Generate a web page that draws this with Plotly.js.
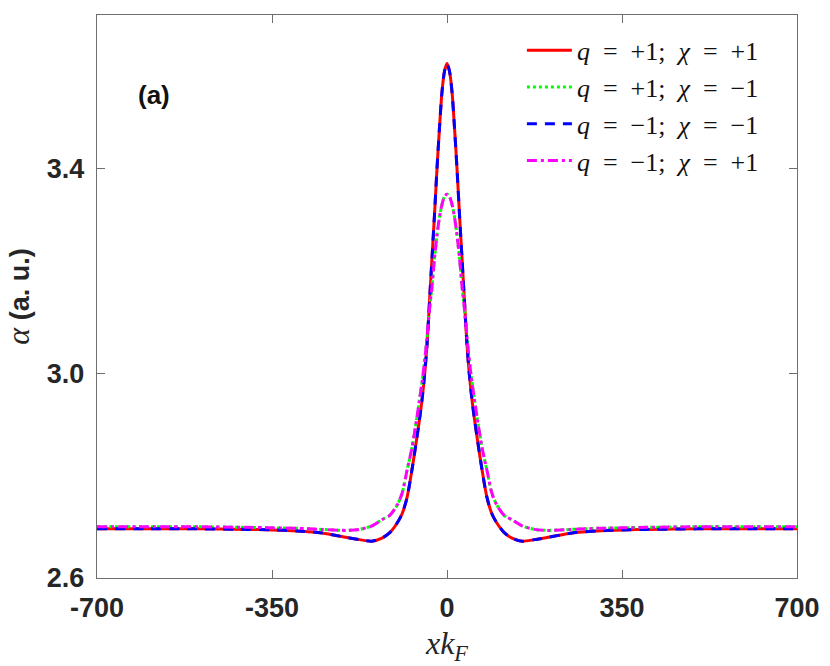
<!DOCTYPE html>
<html>
<head>
<meta charset="utf-8">
<script src="https://cdn.plot.ly/plotly-3.0.1.min.js"></script>
<style>
  html, body { margin: 0; padding: 0; background: #fff; }
  #plot { width: 830px; height: 666px; }
</style>
</head>
<body>
<div id="plot"></div>
<script>
const xk = [-700, -600, -500, -400, -350, -300, -250, -200, -175, -150, -130, -115, -100, -90, -80, -70,
            -60, -55, -50, -45, -40, -35, -30, -25, -20, -15, -10, -5, 0,
            5, 10, 15, 20, 25, 30, 35, 40, 45, 50, 55, 60,
            70, 80, 90, 100, 115, 130, 150, 175, 200, 250, 300, 350, 400, 500, 600, 700];

// q=+1, chi=+1 (red) and q=-1, chi=-1 (blue) lie on top of each other
const alphaPP = [2.696, 2.696, 2.696, 2.695, 2.694, 2.692, 2.688, 2.679, 2.675, 2.672, 2.678, 2.688, 2.707, 2.725, 2.757, 2.812,
                 2.876, 2.910, 2.948, 2.995, 3.055, 3.140, 3.225, 3.310, 3.400, 3.480, 3.550, 3.590, 3.605,
                 3.590, 3.550, 3.480, 3.400, 3.310, 3.225, 3.140, 3.055, 2.995, 2.948, 2.910, 2.876,
                 2.812, 2.757, 2.725, 2.707, 2.688, 2.678, 2.672, 2.675, 2.679, 2.688, 2.692, 2.694, 2.695, 2.696, 2.696, 2.696];
const alphaMM = [2.696, 2.696, 2.696, 2.695, 2.694, 2.692, 2.688, 2.679, 2.675, 2.672, 2.678, 2.688, 2.707, 2.725, 2.757, 2.812,
                 2.876, 2.910, 2.948, 2.995, 3.055, 3.140, 3.225, 3.310, 3.400, 3.480, 3.550, 3.590, 3.605,
                 3.590, 3.550, 3.480, 3.400, 3.310, 3.225, 3.140, 3.055, 2.995, 2.948, 2.910, 2.876,
                 2.812, 2.757, 2.725, 2.707, 2.688, 2.678, 2.672, 2.675, 2.679, 2.688, 2.692, 2.694, 2.695, 2.696, 2.696, 2.696];

// q=+1, chi=-1 (green) and q=-1, chi=+1 (magenta), the lower peak
const alphaPM = [2.700, 2.700, 2.700, 2.699, 2.698, 2.697, 2.695, 2.693, 2.695, 2.702, 2.714, 2.722, 2.742, 2.765, 2.810, 2.855,
                 2.915, 2.948, 2.982, 3.022, 3.070, 3.125, 3.170, 3.225, 3.270, 3.305, 3.330, 3.345, 3.350,
                 3.345, 3.330, 3.305, 3.270, 3.225, 3.170, 3.125, 3.070, 3.022, 2.982, 2.948, 2.915,
                 2.855, 2.810, 2.765, 2.742, 2.722, 2.714, 2.702, 2.695, 2.693, 2.695, 2.697, 2.698, 2.699, 2.700, 2.700, 2.700];
const alphaMP = [2.700, 2.700, 2.700, 2.699, 2.698, 2.697, 2.695, 2.693, 2.695, 2.702, 2.714, 2.722, 2.742, 2.765, 2.810, 2.855,
                 2.915, 2.948, 2.982, 3.022, 3.070, 3.125, 3.170, 3.225, 3.270, 3.305, 3.330, 3.345, 3.350,
                 3.345, 3.330, 3.305, 3.270, 3.225, 3.170, 3.125, 3.070, 3.022, 2.982, 2.948, 2.915,
                 2.855, 2.810, 2.765, 2.742, 2.722, 2.714, 2.702, 2.695, 2.693, 2.695, 2.697, 2.698, 2.699, 2.700, 2.700, 2.700];

// TeX-like spacing around "=" and after ";"
const es = '\u2002';
const seriesNames = [
  `<i>q</i>${es}=${es}+1;${es}<i>χ</i>${es}=${es}+1`,
  `<i>q</i>${es}=${es}+1;${es}<i>χ</i>${es}=${es}−1`,
  `<i>q</i>${es}=${es}−1;${es}<i>χ</i>${es}=${es}−1`,
  `<i>q</i>${es}=${es}−1;${es}<i>χ</i>${es}=${es}+1`
];
const xTickVals = [-700, -350, 0, 350, 700];
const xTickText = ['-700', '-350', '0', '350', '700'];
const yTickVals = [2.6, 3.0, 3.4];
const yTickText = ['2.6', '3.0', '3.4'];

const axisGray = '#6e6e6e';
const tickFont = { family: 'Liberation Sans, Arial, sans-serif', size: 27, color: '#262626', weight: 'bold' };

function curve(y, name, color, dash) {
  return {
    type: 'scatter',
    mode: 'lines',
    x: xk,
    y: y,
    name: name,
    line: { color: color, width: 3, dash: dash, shape: 'spline', smoothing: 0.8 }
  };
}

const traces = [
  curve(alphaPP, seriesNames[0], '#ff0000', 'solid'),
  curve(alphaPM, seriesNames[1], '#00ff00', '3px,3px'),
  curve(alphaMM, seriesNames[2], '#0000ff', '10px,8px'),
  curve(alphaMP, seriesNames[3], '#ff00ff', '10px,4px,3px,4px')
];

const layout = {
  width: 830,
  height: 666,
  margin: { l: 97, r: 33, t: 15, b: 88 },
  paper_bgcolor: '#ffffff',
  plot_bgcolor: '#ffffff',
  showlegend: true,
  legend: {
    x: 0.607, xanchor: 'left',
    y: 0.979, yanchor: 'top',
    bgcolor: 'rgba(255,255,255,1)',
    borderwidth: 0,
    itemwidth: 45,
    font: { family: 'Liberation Serif, Times New Roman, serif', size: 26, color: '#111' },
    tracegroupgap: 0
  },
  xaxis: {
    range: [-700, 700],
    tickvals: xTickVals,
    ticktext: xTickText,
    tickfont: tickFont,
    ticklabelstandoff: 5,
    ticks: 'inside', ticklen: 8, tickwidth: 1, tickcolor: axisGray,
    showline: true, linecolor: axisGray, linewidth: 1.2, mirror: 'ticks',
    showgrid: false, zeroline: false,
    title: {
      text: '<i>xk</i><sub><i>F</i></sub>',
      font: { family: 'Liberation Serif, Times New Roman, serif', size: 32, color: '#262626' },
      standoff: 14
    }
  },
  yaxis: {
    range: [2.6, 3.7],
    tickvals: yTickVals,
    ticktext: yTickText,
    tickfont: tickFont,
    ticklabelstandoff: 6,
    ticks: 'inside', ticklen: 8, tickwidth: 1, tickcolor: axisGray,
    showline: true, linecolor: axisGray, linewidth: 1.2, mirror: 'ticks',
    showgrid: false, zeroline: false,
    title: {
      text: '<span style="font-family:Liberation Serif;font-style:italic;font-weight:normal;font-size:32px">α</span> (a. u.)',
      font: { family: 'Liberation Sans, Arial, sans-serif', size: 27, color: '#262626', weight: 'bold' },
      standoff: 14
    }
  },
  annotations: [{
    text: '(a)',
    xref: 'paper', yref: 'paper',
    x: 0.082, y: 0.858,
    xanchor: 'center', yanchor: 'middle',
    showarrow: false,
    font: { family: 'Liberation Sans, Arial, sans-serif', size: 26, color: '#111', weight: 'bold' }
  }]
};

Plotly.newPlot('plot', traces, layout, { staticPlot: true, displayModeBar: false });
</script>
</body>
</html>
